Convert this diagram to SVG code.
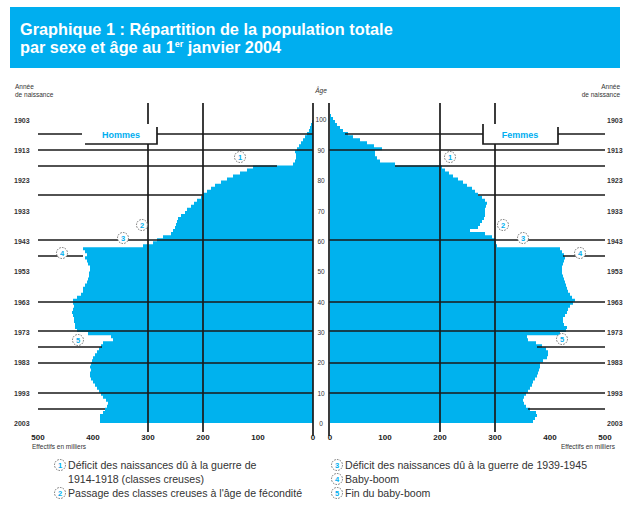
<svg xmlns="http://www.w3.org/2000/svg" width="630" height="505" viewBox="0 0 630 505">
<style>
.t{font-family:"Liberation Sans",Arial,sans-serif}
.title{font-family:"Liberation Sans",Arial,sans-serif;font-weight:bold;font-size:16.3px;fill:#fff}
.yr{font-family:"Liberation Sans",Arial,sans-serif;font-weight:bold;font-size:7px;fill:#333}
.age{font-family:"Liberation Sans",Arial,sans-serif;font-size:6.5px;fill:#333;text-anchor:middle}
.ax{font-family:"Liberation Sans",Arial,sans-serif;font-weight:bold;font-size:8px;fill:#222;text-anchor:middle}
.cap{font-family:"Liberation Sans",Arial,sans-serif;font-size:6.5px;fill:#333}
.leg{font-family:"Liberation Sans",Arial,sans-serif;font-size:10.6px;fill:#333}
.sex{font-family:"Liberation Sans",Arial,sans-serif;font-weight:bold;font-size:9px;fill:#00AEEF;text-anchor:middle}
.ln{stroke:#1a1a1a;stroke-width:1.7;fill:none}
.mk circle{fill:#fff;stroke:#666;stroke-width:0.9;stroke-dasharray:1.6 1.2}
.mk text{font-family:"Liberation Sans",Arial,sans-serif;font-weight:bold;font-size:7.5px;fill:#00AEEF;text-anchor:middle}
.pyr{fill:#00B2EE}
</style>

<g id="header">
<rect x="10" y="7" width="610" height="61" fill="#00AEEF"/>
<text class="title" x="20" y="35">Graphique 1 : Répartition de la population totale</text>
<text class="title" x="20" y="53">par sexe et âge au 1<tspan font-size="9" dy="-6">er</tspan><tspan dy="6"> janvier 2004</tspan></text>
</g>

<g id="pyramid-hommes">
<path class="pyr" transform="translate(313,423) scale(-1,-3.03)" d="M0 0H213V1H213V2H213V3H210V4H208V5H206V6H205V7H207V8H210V9H212V10H214V11H216V12H218V13H220V14H222V15H223V16H223V17H222V18H223V19H222V20H221V21H220V22H218V23H216V24H214V25H212V26H210V27H200V28H202V29H225V30H236V31H238V32H238V33H239V34H239V35H240V36H241V37H240V38H239V39H240V40H240V41H236V42H232V43H230V44H230V45H228V46H226V47H225V48H224V49H224V50H223V51H223V52H225V53H226V54H228V55H226V56H228V57H230V58H170V59H160V60H156V61H150V62H142V63H140V64H138V65H137V66H136V67H135V68H132V69H128V70H126V71H122V72H119V73H116V74H112V75H110V76H106V77H102V78H98V79H92V80H86V81H80V82H73V83H66V84H60V85H20V86H18V87H17V88H17V89H18V90H16V91H14V92H12V93H10V94H8V95H6V96H4V97H3V98H2V99H1V100H0Z"/>
</g>
<g id="pyramid-femmes">
<path class="pyr" transform="translate(330,423) scale(1,-3.03)" d="M0 0H203V1H205V2H207V3H206V4H200V5H196V6H194V7H193V8H194V9H196V10H198V11H200V12H202V13H203V14H205V15H207V16H208V17H209V18H210V19H210V20H213V21H217V22H218V23H218V24H216V25H212V26H206V27H198V28H197V29H230V30H236V31H237V32H234V33H233V34H233V35H235V36H237V37H238V38H240V39H243V40H245V41H242V42H240V43H238V44H237V45H236V46H235V47H234V48H233V49H232V50H232V51H232V52H233V53H234V54H235V55H234V56H232V57H230V58H167V59H166V60H165V61H162V62H155V63H140V64H148V65H150V66H152V67H154V68H155V69H155V70H155V71H156V72H157V73H155V74H152V75H148V76H145V77H142V78H137V79H133V80H128V81H123V82H119V83H115V84H112V85H65V86H50V87H47V88H45V89H45V90H52V91H44V92H37V93H30V94H23V95H18V96H13V97H10V98H7V99H5V100H3V101H1V102H0Z"/>
</g>

<g id="connectors" class="ln">
<path d="M148 103V432M203 103V432M440 103V432M495 103V432M313 103V436M329 103V436"/>
<path d="M38 150H313M329 150H605M38 240H313M329 240H605M38 302H313M329 302H605M38 331H313M329 331H605M38 363H313M329 363H605M38 393H313M329 393H605"/>
<path d="M38 134H82M157 134H313M345 134H483M558 134H605"/>
<path d="M38 166H277M395 166H605M38 195H203M478 195H605M38 256H83M563 256H605M38 347H102M537 347H605M38 409H105M528 409H605"/>
</g>

<g id="box-hommes">
<rect x="85" y="124" width="72" height="20" fill="#fff"/>
<path class="ln" d="M85 144H157V127"/>
<text class="sex" x="121" y="138">Hommes</text>
</g>
<g id="box-femmes">
<rect x="483" y="124" width="75" height="20" fill="#fff"/>
<path class="ln" d="M483 124V144H558V127"/>
<text class="sex" x="520" y="138">Femmes</text>
</g>

<g id="markers">
<g class="mk" id="m1g"><circle cx="240" cy="157" r="5.5"/><text x="240" y="159.7">1</text></g>
<g class="mk" id="m1d"><circle cx="450" cy="157" r="5.5"/><text x="450" y="159.7">1</text></g>
<g class="mk" id="m2g"><circle cx="142" cy="225" r="5.5"/><text x="142" y="227.7">2</text></g>
<g class="mk" id="m2d"><circle cx="503" cy="225" r="5.5"/><text x="503" y="227.7">2</text></g>
<g class="mk" id="m3g"><circle cx="123" cy="238" r="5.5"/><text x="123" y="240.7">3</text></g>
<g class="mk" id="m3d"><circle cx="523" cy="238" r="5.5"/><text x="523" y="240.7">3</text></g>
<g class="mk" id="m4g"><circle cx="62" cy="253" r="5.5"/><text x="62" y="255.7">4</text></g>
<g class="mk" id="m4d"><circle cx="580" cy="253" r="5.5"/><text x="580" y="255.7">4</text></g>
<g class="mk" id="m5g"><circle cx="78" cy="340" r="5.5"/><text x="78" y="342.7">5</text></g>
<g class="mk" id="m5d"><circle cx="562" cy="339" r="5.5"/><text x="562" y="341.7">5</text></g>
</g>

<g id="axis-left">
<text class="cap" x="15" y="89">Année</text>
<text class="cap" x="15" y="97">de naissance</text>
<text class="yr" x="14" y="122.5">1903</text>
<text class="yr" x="14" y="152.5">1913</text>
<text class="yr" x="14" y="182.5">1923</text>
<text class="yr" x="14" y="213.5">1933</text>
<text class="yr" x="14" y="243.5">1943</text>
<text class="yr" x="14" y="273.5">1953</text>
<text class="yr" x="14" y="304.5">1963</text>
<text class="yr" x="14" y="334.5">1973</text>
<text class="yr" x="14" y="364.5">1983</text>
<text class="yr" x="14" y="395.5">1993</text>
<text class="yr" x="14" y="425.5">2003</text>
</g>
<g id="axis-right">
<text class="cap" x="620" y="89" text-anchor="end">Année</text>
<text class="cap" x="620" y="97" text-anchor="end">de naissance</text>
<text class="yr" x="607" y="122.5">1903</text>
<text class="yr" x="607" y="152.5">1913</text>
<text class="yr" x="607" y="182.5">1923</text>
<text class="yr" x="607" y="213.5">1933</text>
<text class="yr" x="607" y="243.5">1943</text>
<text class="yr" x="607" y="273.5">1953</text>
<text class="yr" x="607" y="304.5">1963</text>
<text class="yr" x="607" y="334.5">1973</text>
<text class="yr" x="607" y="364.5">1983</text>
<text class="yr" x="607" y="395.5">1993</text>
<text class="yr" x="607" y="425.5">2003</text>
</g>
<g id="axis-age">
<text class="age" x="321" y="93" font-style="italic">Âge</text>
<text class="age" x="321" y="122">100</text>
<text class="age" x="321" y="152.5">90</text>
<text class="age" x="321" y="182.5">80</text>
<text class="age" x="321" y="213.5">70</text>
<text class="age" x="321" y="243.5">60</text>
<text class="age" x="321" y="273.5">50</text>
<text class="age" x="321" y="304.5">40</text>
<text class="age" x="321" y="334.5">30</text>
<text class="age" x="321" y="364.5">20</text>
<text class="age" x="321" y="395.5">10</text>
<text class="age" x="321" y="425.5">0</text>
</g>
<g id="axis-x">
<text class="ax" x="38" y="440">500</text>
<text class="ax" x="93" y="440">400</text>
<text class="ax" x="148" y="440">300</text>
<text class="ax" x="203" y="440">200</text>
<text class="ax" x="258" y="440">100</text>
<text class="ax" x="313" y="440">0</text>
<text class="ax" x="330" y="440">0</text>
<text class="ax" x="385" y="440">100</text>
<text class="ax" x="440" y="440">200</text>
<text class="ax" x="495" y="440">300</text>
<text class="ax" x="550" y="440">400</text>
<text class="ax" x="605" y="440">500</text>
<text class="cap" x="32" y="449">Effectifs en milliers</text>
<text class="cap" x="615" y="449" text-anchor="end">Effectifs en milliers</text>
</g>

<g id="legend">
<g class="mk"><circle cx="60" cy="465" r="5.5"/><text x="60" y="467.7">1</text></g>
<text class="leg" x="68" y="469">Déficit des naissances dû à la guerre de</text>
<text class="leg" x="68" y="482.5">1914-1918 (classes creuses)</text>
<g class="mk"><circle cx="60" cy="493" r="5.5"/><text x="60" y="495.7">2</text></g>
<text class="leg" x="68" y="497">Passage des classes creuses à l'âge de fécondité</text>
<g class="mk"><circle cx="337" cy="465" r="5.5"/><text x="337" y="467.7">3</text></g>
<text class="leg" x="345" y="469">Déficit des naissances dû à la guerre de 1939-1945</text>
<g class="mk"><circle cx="337" cy="479" r="5.5"/><text x="337" y="481.7">4</text></g>
<text class="leg" x="345" y="482.5">Baby-boom</text>
<g class="mk"><circle cx="337" cy="493" r="5.5"/><text x="337" y="495.7">5</text></g>
<text class="leg" x="345" y="497">Fin du baby-boom</text>
</g>
</svg>
